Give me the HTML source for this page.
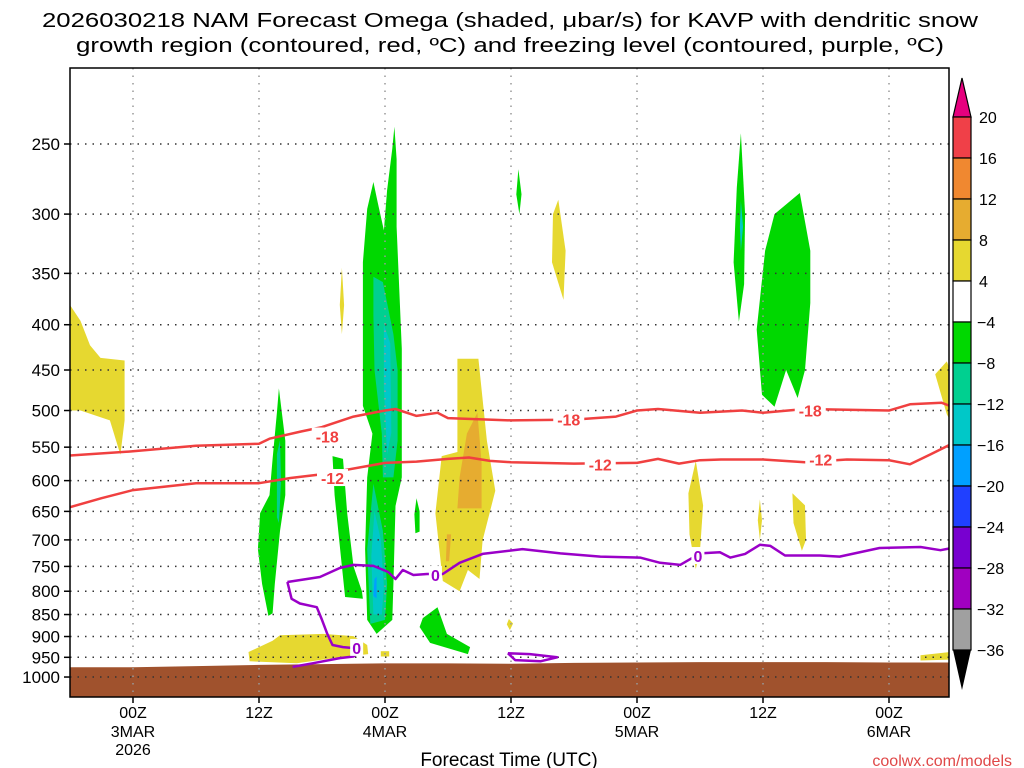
<!DOCTYPE html>
<html><head><meta charset="utf-8"><style>
body{margin:0;background:#fff;}
svg{display:block;font-family:"Liberation Sans","DejaVu Sans",sans-serif;}
</style></head><body>
<svg id="chart" width="1024" height="768" viewBox="0 0 1024 768" xmlns="http://www.w3.org/2000/svg">
<g>
<text x="510" y="27" text-anchor="middle" font-size="20" textLength="936" lengthAdjust="spacingAndGlyphs">2026030218 NAM Forecast Omega (shaded, μbar/s) for KAVP with dendritic snow</text>
<text x="510" y="52" text-anchor="middle" font-size="20" textLength="868" lengthAdjust="spacingAndGlyphs">growth region (contoured, red, ºC) and freezing level (contoured, purple, ºC)</text>
</g>
<defs><clipPath id="plotclip"><rect x="70" y="68" width="879" height="629"/></clipPath></defs>
<g id="shading" clip-path="url(#plotclip)"></g>
<g id="grid"></g>
<g id="contours" clip-path="url(#plotclip)"></g>
<rect x="70" y="68" width="879" height="629" fill="none" stroke="#000" stroke-width="1.5"/>
<g id="yaxis"></g>
<g id="xaxis"></g>
<text x="509" y="766" text-anchor="middle" font-size="19">Forecast Time (UTC)</text>
<text x="1012" y="766" text-anchor="end" font-size="16" fill="#e04848">coolwx.com/models</text>
<g id="colorbar"></g>
</svg>
<script>
const NS="http://www.w3.org/2000/svg";
// ---- data ----
const pLevels=[250,300,350,400,450,500,550,600,650,700,750,800,850,900,950,1000];
const timeTicks=[6,18,30,42,54,66,78];
const timeLab1=["00Z","12Z","00Z","12Z","00Z","12Z","00Z"];
const timeLab2=["3MAR","","4MAR","","5MAR","","6MAR"];
const timeLab3=["2026","","","","","",""];
const cbLevels=[20,16,12,8,4,-4,-8,-12,-16,-20,-24,-28,-32,-36];
const cbColors=["#f04048","#f08830","#e6ac30","#e6d830","#ffffff","#00d800","#00d090","#00c8c8","#00a0ff","#2040ff","#7800d0","#a000c0","#a0a0a0"];
const groundHours=[0,6,12,18,24,30,36,42,48,54,60,66,72,78,84];
const groundP=[975,975,972,969,967,965,965,966,964,963,962,962,962,963,963];
// shaded regions: [hour, hPa] vertices
const blobs=[
 {c:"#e6d830",pts:[[0,380],[1,396],[1.9,422],[2.9,436],[5.2,439],[5.2,513],[4.8,561],[3.8,513],[1,500],[0,500]]},
 {c:"#e6d830",pts:[[17,937],[19.3,910],[20,897],[24.1,894],[27,899],[28.3,920],[28.4,942],[25.7,950],[21.6,965],[17.1,960]]},
 {c:"#e6d830",pts:[[29.6,935],[30.4,935],[30.4,948],[29.6,948]]},
 {c:"#e6d830",pts:[[25.9,345],[26.1,380],[25.9,410],[25.7,380]]},
 {c:"#e6d830",pts:[[36.9,437],[38.9,437],[39.7,541],[40.5,616],[39.3,701],[39,775],[37.9,757],[37.1,800],[35.5,779],[34.8,653],[35.4,563],[36.9,557]]},
 {c:"#e6ac30",pts:[[38.8,503],[39.2,573],[39.2,645],[36.9,645],[37.1,595],[37.8,531]]},
 {c:"#e6ac30",pts:[[35.9,690],[36.3,690],[36.1,740],[35.8,740]]},
 {c:"#e6d830",pts:[[46.5,289],[47.2,330],[47,375],[45.9,340],[46,300]]},
 {c:"#e6d830",pts:[[41.8,860],[42.2,870],[41.9,885],[41.6,872]]},
 {c:"#e6d830",pts:[[59.6,570],[60.3,640],[60,720],[59.6,755],[59,690],[58.9,620]]},
 {c:"#e6d830",pts:[[65.7,630],[65.9,665],[65.7,700],[65.5,665]]},
 {c:"#e6d830",pts:[[68.8,620],[70,640],[70.1,700],[69.7,720],[68.9,670]]},
 {c:"#e6d830",pts:[[83.5,440],[84.5,470],[84.5,530],[83.5,505],[82.4,455]]},
 {c:"#e6d830",pts:[[81,945],[84.5,935],[84.5,955],[81,958]]},
 {c:"#00d800",pts:[[19.9,472],[20.5,541],[20.5,623],[20,684],[19.5,785],[19.3,847],[18.9,853],[18.3,785],[17.9,717],[18.1,653],[19.0,623],[19.3,567],[19.7,503]]},
 {c:"#00d090",pts:[[20,540],[20.1,600],[19.9,670],[19.7,660],[19.7,560]]},
 {c:"#00d800",pts:[[25,563],[26,567],[26.4,653],[27,750],[27.8,800],[27.9,816],[26.2,812],[25.9,750],[25.2,623]]},
 {c:"#00d800",pts:[[30.9,239],[31.1,260],[31.1,310],[31.6,426],[31.6,595],[31.0,641],[30.8,785],[30.7,862],[29.2,894],[28.3,862],[28.1,717],[28.3,595],[28.8,531],[27.9,494],[27.9,450],[27.9,340],[28.3,296],[28.9,276],[29.3,291],[29.9,313],[30.2,282],[30.7,253]]},
 {c:"#00d090",pts:[[28.9,353],[29.8,358],[30.8,410],[31.2,450],[31.2,541],[30.8,595],[29.8,595],[29.7,531],[29,450],[28.9,391]]},
 {c:"#00d090",pts:[[28.9,605],[29.8,684],[30.2,785],[30,862],[28.6,871],[28.3,717]]},
 {c:"#00c8c8",pts:[[29.9,400],[30.5,420],[30.6,530],[30.2,560],[29.9,470]]},
 {c:"#00c8c8",pts:[[29,650],[29.6,700],[29.9,790],[29.7,850],[28.9,850],[28.7,730]]},
 {c:"#00a0ff",pts:[[29,775],[29.2,770],[29.2,815],[28.9,810]]},
 {c:"#00d800",pts:[[33,628],[33.3,650],[33.3,685],[32.9,688],[32.8,655]]},
 {c:"#00d800",pts:[[35,834],[35.9,894],[38.1,925],[37.9,942],[34.3,915],[33.3,878],[33.6,858]]},
 {c:"#00d800",pts:[[42.7,267],[43,285],[42.8,300],[42.5,285]]},
 {c:"#00d800",pts:[[63.9,243],[64.3,300],[64.2,360],[63.7,397],[63.2,340],[63.5,280]]},
 {c:"#00c8c8",pts:[[63.9,290],[64.1,310],[63.9,330],[63.8,310]]},
 {c:"#00d800",pts:[[67.1,300],[69.5,284],[70.5,330],[70.5,378],[70,450],[69.3,484],[68.2,450],[67.1,495],[65.9,480],[65.4,405],[66.2,330]]}
];
const m18Hours=[0,6,12,18,19,22,24,27,30,31,33,35,36,42,48,52,54,56,60,64,66,70,78,80,83,84];
const m18P=[562,556,548,545,538,528,522,508,500,498,507,503,510,513,512,508,500,498,503,500,503,498,500,492,490,495];
const m12Hours=[0,3,6,12,18,21,24,30,33,36,38,40,42,48,54,56,58,60,62,66,70,74,78,80,82,84];
const m12P=[643,628,615,604,604,596,590,573,571,567,565,570,572,574,573,567,574,569,568,568,572,568,569,575,560,545];
const zeroHours=[20.7,23.8,25.7,27,28.9,30.3,31,31.7,32.7,34,35.5,37.1,39.3,43.1,46.7,50.5,54.3,56.2,58.1,60,61.9,62.9,64.3,65.7,66.7,68.1,71.4,73.3,77.1,81,82.9,84];
const zeroP=[781,771,753,747,749,761,775,757,767,765,765,743,726,717,725,731,733,743,747,725,723,733,726,709,711,729,729,731,715,713,719,715];
const zeroBHours=[20.7,21.1,21.9,23.5,24,24.5,25,26,27.2];
const zeroBP=[781,816,826,834,862,894,920,925,928];
const zeroCHours=[27.8,27,25.7,23.1,21.2];
const zeroCP=[930,948,952,965,974];
const zeroLoopHours=[41.7,43.8,46.4,44.8,42.4,41.7];
const zeroLoopP=[940,942,950,960,957,940];
const labels18=[[24.5,535],[47.5,512],[70.5,500]];
const labels12=[[25,596],[50.5,575],[71.5,568]];
const labels0=[[34.8,767],[59.8,730],[27.3,927]];
// ---- axes ----
const X=h=>70+10.5*h;
const Y=p=>144+384.5*Math.log(p/250);
function el(tag,attrs,parent){const e=document.createElementNS(NS,tag);for(const k in attrs)e.setAttribute(k,attrs[k]);parent.appendChild(e);return e;}
const shading=document.getElementById('shading');
blobs.forEach((b,i)=>{
 const e=el('polygon',{points:b.pts.map(q=>X(q[0]).toFixed(1)+','+Y(q[1]).toFixed(1)).join(' '),fill:b.c},shading);
 
 
});
let gpts=groundHours.map((h,i)=>X(h)+','+Y(groundP[i]));
gpts.push(X(84)+',700',X(0)+',700');
const ground=el('polygon',{points:gpts.join(' '),fill:'#a0522d'},shading);


const grid=document.getElementById('grid');
pLevels.forEach(p=>{
 const l=el('line',{x1:70,x2:949,y1:Y(p),y2:Y(p),stroke:'#333','stroke-width':1.5,'stroke-dasharray':'1.5 6'},grid);
 
 
});
timeTicks.forEach(h=>{
 const l=el('line',{x1:X(h),x2:X(h),y1:68,y2:697,stroke:'#999','stroke-width':1.5,'stroke-dasharray':'1.5 6'},grid);
 
 
});
const cont=document.getElementById('contours');
function line(hs,ps,color,name){
 const e=el('polyline',{points:hs.map((h,i)=>X(h).toFixed(1)+','+Y(ps[i]).toFixed(1)).join(' '),fill:'none',stroke:color,'stroke-width':2.5,'stroke-linejoin':'round'},cont);
 
 
}
line(m18Hours,m18P,'#f04040','contour-minus18');
line(m12Hours,m12P,'#f04040','contour-minus12');
line(zeroHours,zeroP,'#9a00c8','freezing-level-0');
line(zeroBHours,zeroBP,'#9a00c8','freezing-level-0-branch');
line(zeroCHours,zeroCP,'#9a00c8','freezing-level-0-lower');
line(zeroLoopHours,zeroLoopP,'#9a00c8','freezing-level-0-loop');
function clabels(arr,txt,color,name){arr.forEach(q=>{
 const w=txt.length*9+4;
 el('rect',{x:X(q[0])-w/2,y:Y(q[1])-9,width:w,height:17,fill:'#fff'},cont);
 const t=el('text',{x:X(q[0]),y:Y(q[1])+6,'text-anchor':'middle','font-size':16,'font-weight':'bold',fill:color},cont);
 t.textContent=txt;
 
 
});}
clabels(labels18,'-18','#f04040','contour-label-minus18');
clabels(labels12,'-12','#f04040','contour-label-minus12');
clabels(labels0,'0','#9a00c8','contour-label-0');
const ya=document.getElementById('yaxis');
pLevels.forEach(p=>{
 el('line',{x1:64,x2:70,y1:Y(p),y2:Y(p),stroke:'#000','stroke-width':1.5},ya);
 const t=el('text',{x:60,y:Y(p)+6,'text-anchor':'end','font-size':17},ya);
 t.textContent=p;
 
 
});
const xa=document.getElementById('xaxis');
timeTicks.forEach((h,i)=>{
 el('line',{x1:X(h),x2:X(h),y1:697,y2:703,stroke:'#000','stroke-width':1.5},xa);
 [[timeLab1[i],718],[timeLab2[i],737],[timeLab3[i],755]].forEach(a=>{
  if(!a[0])return;
  const t=el('text',{x:X(h),y:a[1],'text-anchor':'middle','font-size':16},xa);
  t.textContent=a[0];
  
  
 });
});
const cb=document.getElementById('colorbar');
const cbY=v=>117+(20-v)*41/4*(v>=4?1:1)-(v<=-4?41:0);
el('polygon',{points:'953,117 971,117 962,78',fill:'#e6007e',stroke:'#000','stroke-width':1.2},cb);
cbColors.forEach((c,i)=>{
 const y0=cbY(cbLevels[i]),y1=cbY(cbLevels[i+1]);
 const r=el('rect',{x:953,y:y0,width:18,height:y1-y0,fill:c,stroke:'#000','stroke-width':1.2},cb);
 
 
});
el('polygon',{points:'953,650 971,650 962,690',fill:'#000'},cb);
cbLevels.forEach(v=>{
 const t=el('text',{x:v<0?977:979,y:cbY(v)+6,'font-size':16},cb);
 t.textContent=v<0?'\u2212'+(-v):v;
 
 
});
</script>
</body></html>
